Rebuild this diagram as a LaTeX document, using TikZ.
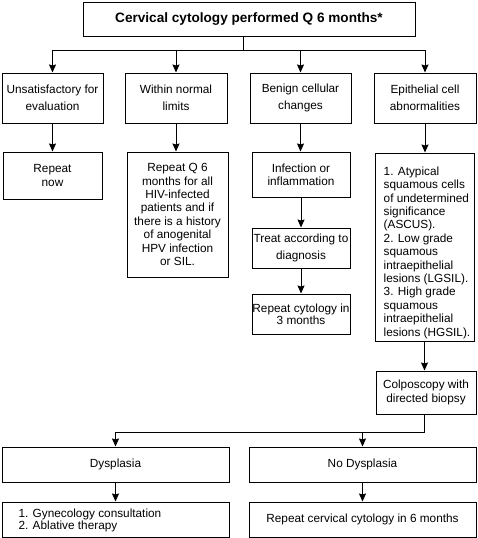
\documentclass[tikz,border=0pt]{standalone}
\usepackage{fontspec}
\setmainfont{Liberation Sans}
\usetikzlibrary{arrows.meta}
\tikzset{
  box/.style={draw, line width=1pt, rectangle, inner sep=0pt, align=center,
    font=\fontsize{11.8}{13.4}\selectfont},
  txt/.style={inner sep=0pt, align=left, font=\fontsize{11.8}{13.4}\selectfont},
  ln/.style={line width=1pt},
  arr/.style={line width=1pt, -{Stealth[length=8pt,width=7pt,inset=1pt]}},
}
\begin{document}
\begin{tikzpicture}[x=1pt,y=-1pt]
\useasboundingbox (0,0) rectangle (478,538);
\fill[white] (0,0) rectangle (478,538);

\node[box, minimum width=332pt, minimum height=34pt,
  font=\bfseries\fontsize{13.6}{16}\selectfont] (top) at (249,19)
  {Cervical cytology performed Q 6 months*};

\node[box, minimum width=101pt, minimum height=50pt] (b1) at (52.5,98)
  {Unsatisfactory for\\[3.3pt]evaluation};
\node[box, minimum width=102pt, minimum height=50pt] (b2) at (176,98)
  {Within normal\\[3.3pt]limits};
\node[box, minimum width=101pt, minimum height=50pt] (b3) at (300.5,98)
  {Benign cellular\\[3.3pt]changes};
\node[box, minimum width=102pt, minimum height=50pt] (b4) at (425,98)
  {Epithelial cell\\[3.3pt]abnormalities};

\node[box, minimum width=99pt, minimum height=47pt] (r1) at (52.5,175.5)
  {Repeat\\[1pt]now};
\node[box, minimum width=101pt, minimum height=125pt] (r2) at (177.5,214.5)
  {Repeat Q 6\\months for all\\HIV-infected\\patients and if\\there is a history\\of anogenital\\HPV infection\\or SIL.};

\node[box, minimum width=98pt, minimum height=45pt] (inf) at (301,174.5)
  {Infection or\\inflammation};
\node[box, minimum width=98pt, minimum height=40pt] (treat) at (301,248)
  {Treat according to\\[4.3pt]diagnosis};
\node[box, minimum width=98pt, minimum height=40pt] (rep3) at (301,314)
  {Repeat cytology in\\[-1.1pt]3 months};

\node[box, minimum width=99pt, minimum height=188pt] (list) at (424.5,247) {};
\node[txt, anchor=west] (listtext) at (383.5,252.7)
  {1. Atypical\\squamous cells\\of undetermined\\significance\\(ASCUS).\\2. Low grade\\squamous\\intraepithelial\\lesions (LGSIL).\\3. High grade\\squamous\\intraepithelial\\lesions (HGSIL).};

\node[box, minimum width=100pt, minimum height=43pt] (colpo) at (426,392.5)
  {Colposcopy with\\directed biopsy};

\node[box, minimum width=227pt, minimum height=35pt] (dys) at (115.5,464.5)
  {Dysplasia};
\node[box, minimum width=227pt, minimum height=35pt] (nodys) at (362.5,464.5)
  {No Dysplasia};
\node[box, minimum width=227pt, minimum height=35pt] (dtx) at (115.5,519.5) {};
\node[txt, anchor=west] (dtxtext) at (18.3,520.5)
  {1. Gynecology consultation\\[-1.7pt]2. Ablative therapy};
\node[box, minimum width=227pt, minimum height=35pt] (ndtx) at (362.5,519.5)
  {Repeat cervical cytology in 6 months};

% connectors from top
\coordinate (j1) at (243,50);
\draw[ln] (j1 |- top.south) -- (j1);
\draw[ln] (b1.north |- j1) -- (b4.north |- j1);
\draw[arr] (b1.north |- j1) -- (b1.north);
\draw[arr] (b2.north |- j1) -- (b2.north);
\draw[arr] (b3.north |- j1) -- (b3.north);
\draw[arr] (b4.north |- j1) -- (b4.north);

\draw[arr] (b1.south) -- (b1.south |- r1.north);
\draw[arr] (b2.south) -- (b2.south |- r2.north);
\draw[arr] (b3.south) -- (b3.south |- inf.north);
\draw[arr] (inf.south) -- (inf.south |- treat.north);
\draw[arr] (treat.south) -- (treat.south |- rep3.north);
\draw[arr] (b4.south) -- (b4.south |- list.north);
\draw[arr] (list.south) -- (list.south |- colpo.north);

\coordinate (j2) at (424.5,432);
\draw[ln] (j2 |- colpo.south) -- (j2) -- (dys.north |- j2);
\draw[arr] (dys.north |- j2) -- (dys.north);
\draw[arr] (nodys.north |- j2) -- (nodys.north);

\draw[arr] (dys.south) -- (dtx.north);
\draw[arr] (nodys.south) -- (ndtx.north);
\end{tikzpicture}
\end{document}
